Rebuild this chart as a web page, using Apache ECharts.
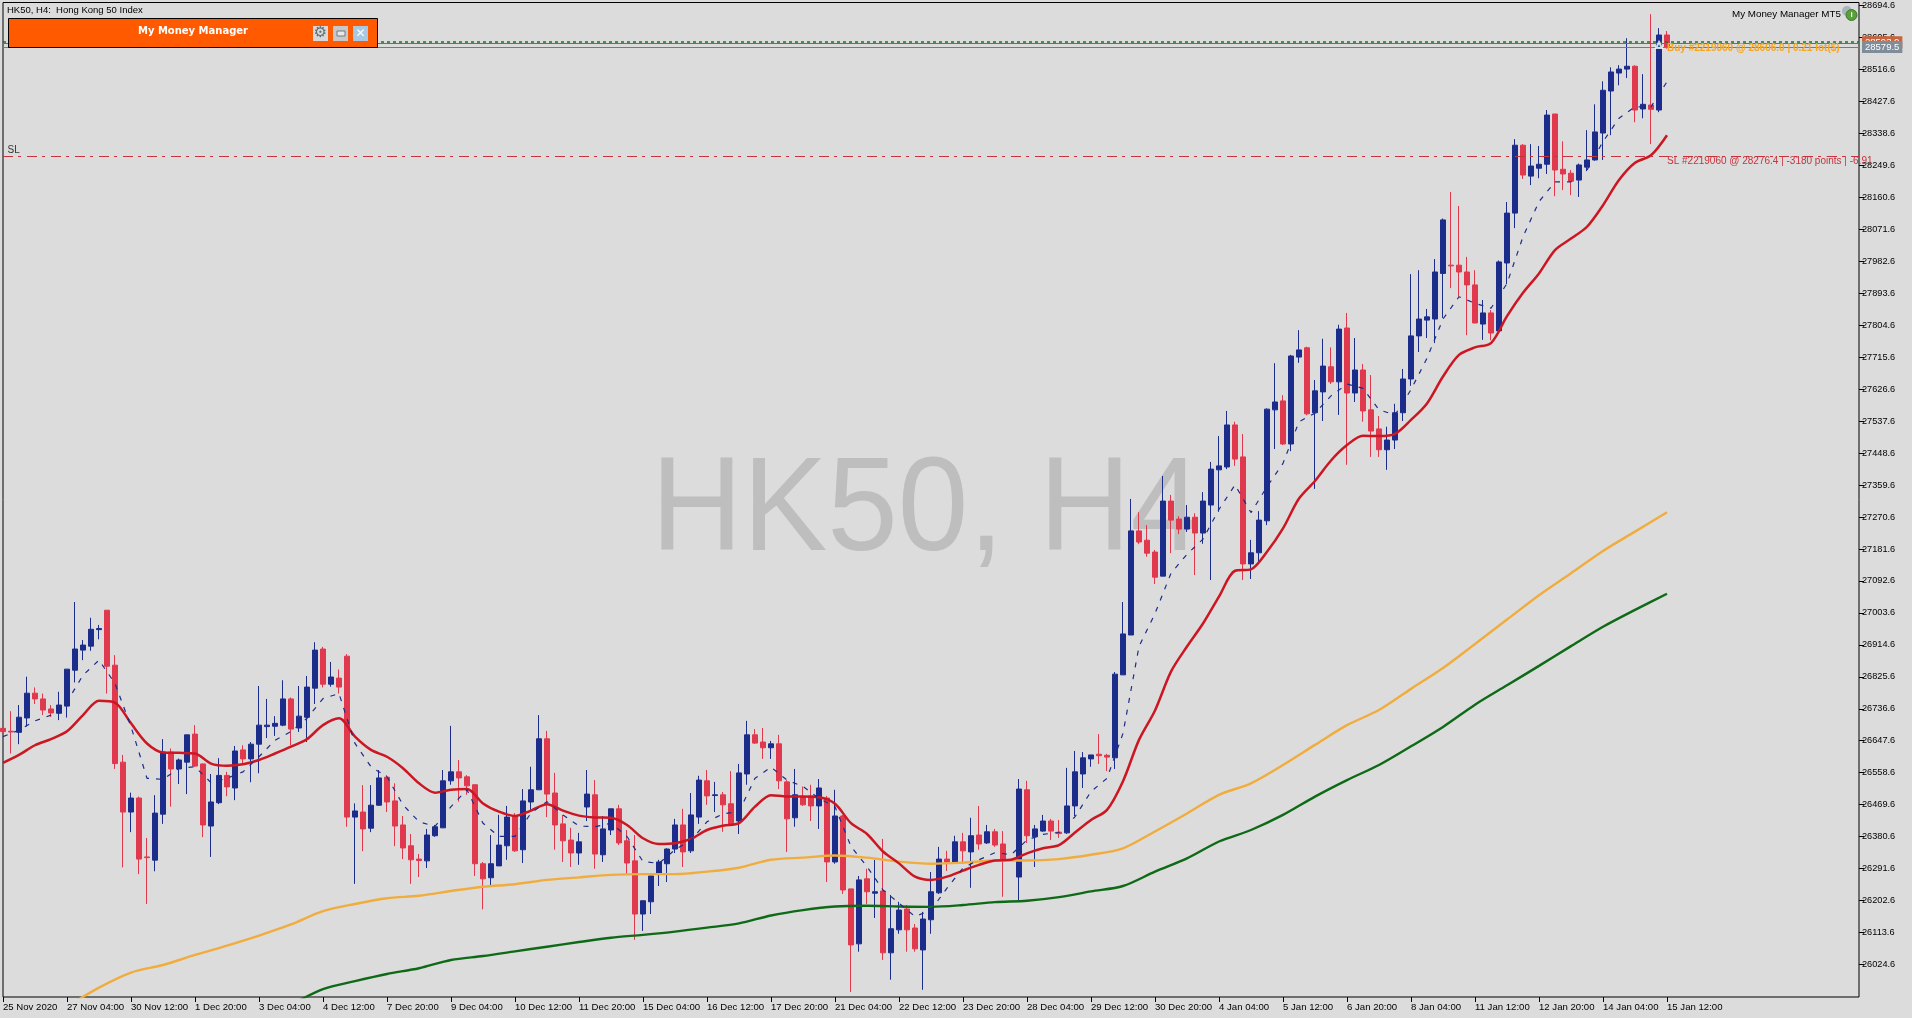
<!DOCTYPE html>
<html>
<head>
<meta charset="utf-8">
<title>HK50, H4</title>
<script src="https://cdn.jsdelivr.net/npm/echarts@6/dist/echarts.min.js"></script>
<style>
  html, body { margin: 0; padding: 0; background: #dcdcdc; }
  #main { width: 1912px; height: 1018px; }
</style>
</head>
<body>
<div id="main"></div>
<script>
// 时间轴标签，每8根K线一个
const tickLabels = ['25 Nov 2020','27 Nov 04:00','30 Nov 12:00','1 Dec 20:00','3 Dec 04:00','4 Dec 12:00','7 Dec 20:00',
  '9 Dec 04:00','10 Dec 12:00','11 Dec 20:00','15 Dec 04:00','16 Dec 12:00','17 Dec 20:00','21 Dec 04:00','22 Dec 12:00',
  '23 Dec 20:00','28 Dec 04:00','29 Dec 12:00','30 Dec 20:00','4 Jan 04:00','5 Jan 12:00','6 Jan 20:00','8 Jan 04:00',
  '11 Jan 12:00','12 Jan 20:00','14 Jan 04:00','15 Jan 12:00'];

const priceTicks = [26024.6,26113.6,26202.6,26291.6,26380.6,26469.6,26558.6,26647.6,26736.6,26825.6,26914.6,27003.6,
  27092.6,27181.6,27270.6,27359.6,27448.6,27537.6,27626.6,27715.6,27804.6,27893.6,27982.6,28071.6,28160.6,28249.6,
  28338.6,28427.6,28516.6,28605.6,28694.6];

// K线 开 收 低 高
const opens = [
  26682,26674,26671,26711,26780,26764,26736,26724,26744,26844,
  26900,26911,26957,27011,26858,26588,26449,26488,26324,26315,
  26443,26616,26569,26588,26666,26583,26410,26475,26551,26516,
  26622,26597,26638,26687,26688,26691,26764,26683,26713,26794,
  26903,26805,26822,26883,26435,26449,26404,26468,26546,26480,
  26413,26355,26318,26313,26383,26405,26536,26561,26547,26525,
  26305,26266,26299,26355,26438,26344,26477,26511,26653,26502,
  26416,26371,26335,26463,26497,26330,26399,26458,26369,26313,
  26165,26199,26277,26305,26346,26413,26341,26435,26536,26495,
  26497,26472,26424,26555,26664,26644,26628,26639,26533,26433,
  26492,26494,26466,26488,26310,26438,26235,26082,26263,26223,
  26229,26057,26121,26179,26126,26065,26149,26224,26318,26310,
  26366,26338,26385,26363,26394,26360,null,26268,26511,26380,
  26396,26424,26393,26391,26466,26555,26597,26610,26607,26600,
  26831,26942,27232,27206,27173,27106,27315,27265,27237,27270,
  27226,27304,27402,27410,27527,27438,27140,27171,27260,27569,
  27594,27474,27716,27742,27561,27619,27689,27647,27797,27616,
  27680,27569,27516,27458,27485,27561,27655,27775,27819,27822,
  27949,27972,27972,27953,27917,27808,27839,27789,27978,28117,
  28306,28220,28242,28253,28393,28239,28228,28209,28245,28265,
  28340,28457,28507,28518,28526,28407,28418,28404,28613];
const closes = [
  26673,26672,26713,26780,26764,26733,26725,26747,26847,26903,
  26914,26958,26960,26855,26584,26449,26488,26318,26322,26446,
  26616,26569,26594,26664,26577,26413,26477,26551,26519,26619,
  26597,26638,26691,26691,26696,26764,26680,26716,26797,26900,
  26805,26825,26797,26435,26452,26402,26468,26544,26477,26410,
  26349,26316,26314,26385,26408,26536,26561,26544,26522,26305,
  26263,26305,26357,26435,26341,26480,26511,26653,26499,26413,
  26369,26335,26366,26499,26332,26402,26458,26363,26307,26165,
  26202,26271,26310,26346,26413,26338,26441,26538,26494,26497,
  26469,26413,26558,26664,26641,26628,26639,26536,26430,26497,
  26469,26466,26516,26310,26438,26232,26079,26260,26227,26227,
  26057,26124,26176,26121,26068,26151,26227,26318,26310,26366,
  26341,26383,26360,26394,26357,26316,null,26513,26383,26402,
  26424,26396,26389,26466,26561,26600,26608,26606,26602,26833,
  26945,27232,27201,27170,27103,27315,27262,27237,27270,27226,
  27315,27404,27413,27527,27432,27140,27171,27262,27571,27591,
  27474,27719,27736,27558,27622,27691,27647,27794,27616,27680,
  27566,27510,27458,27485,27561,27655,27775,27822,27828,27953,
  28098,27970,27953,27917,27811,27839,27783,27981,28117,28306,
  28223,28248,28253,28390,28237,28226,28206,28251,28265,28343,
  28459,28510,28518,28526,28404,28420,28406,28613,28579.5];
const lows = [
  26670,26612,26638,26687,26750,26719,26714,26705,26712,26810,
  26872,26898,26930,26779,26569,26295,26393,26276,26193,26284,
  26416,26464,26527,26499,26575,26379,26324,26471,26493,26482,
  26580,26532,26557,26655,26661,26688,26635,26672,26644,26750,
  26796,26798,26779,26408,26249,26340,26393,26466,26449,26354,
  26318,26249,26268,26293,26380,26405,26525,26478,26497,26271,
  26178,26243,26299,26316,26338,26307,26455,26511,26435,26344,
  26310,26296,26302,26424,26291,26310,26385,26357,26277,26093,
  26118,26165,26243,26254,26335,26296,26335,26416,26469,26449,
  26394,26410,26388,26525,26639,26597,26597,26513,26338,26408,
  26466,26424,26402,26254,26305,26221,25948,26060,26193,26154,
  26037,25982,26110,26060,26060,25954,26110,26221,26285,26307,
  26305,26238,26344,26360,26352,26213,null,26199,26363,26296,
  26394,26371,26377,26388,26438,26516,26575,26583,26563,26569,
  26831,26942,27195,27160,27084,27106,27170,27223,27229,27109,
  27196,27095,27285,27404,27413,27095,27098,27140,27248,27460,
  27471,27454,27700,27554,27349,27538,27641,27555,27416,27591,
  27536,27438,27438,27402,27460,27538,27636,27730,27769,27755,
  27825,27908,27884,27777,27810,27764,27763,27782,27919,28075,
  28212,28195,28214,28226,28164,28181,28167,28162,28234,28263,
  28265,28334,28473,28493,28370,28381,28309,28398,28575];
const highs = [
  26686,26730,26747,26826,26796,26779,26747,26784,26847,27034,
  26928,26990,26970,27011,26886,26608,26503,26492,26377,26496,
  26652,26626,26598,26664,26691,26584,26555,26599,26561,26633,
  26635,26644,26800,26764,26716,26816,26768,26800,26828,26922,
  26909,26867,26846,26889,26473,26524,26524,26566,26552,26529,
  26438,26388,26332,26402,26413,26566,26689,26594,26552,26525,
  26310,26385,26441,26466,26446,26513,26575,26719,26675,26558,
  26441,26405,26391,26566,26538,26438,26458,26469,26399,26385,
  26202,26271,26316,26348,26430,26458,26502,26550,26566,26533,
  26505,26563,26583,26703,26680,26683,26647,26664,26538,26569,
  26520,26525,26541,26494,26511,26441,26235,26271,26291,26316,
  26374,26218,26199,26190,26137,26171,26282,26352,26341,26383,
  26391,26433,26466,26413,26402,26396,null,26541,26536,26413,
  26441,26430,26427,26572,26619,26616,26608,26666,26611,26839,
  27034,27321,27284,27248,27179,27385,27332,27273,27304,27281,
  27340,27424,27496,27566,27536,27502,27207,27287,27573,27699,
  27610,27722,27791,27745,27652,27767,27743,27806,27839,27769,
  27697,27666,27552,27522,27586,27683,27947,27958,27850,27989,
  28102,28176,28137,27995,27958,27875,27847,27985,28148,28323,
  28309,28309,28304,28404,28393,28317,28237,28255,28348,28420,
  28484,28523,28529,28604,28529,28504,28671,28632,28624];

// 均线，红色和蓝色每2根取一个点，橙色绿色每4根取一个点
const redMa = [
  26586,26608,26635,26652,26674,26719,26759,26754,26696,26640,
  26615,26614,26612,26584,26578,26582,26594,26612,26631,26652,
  26691,26710,26659,26622,26603,
  26571,26529,26503,26511,26513,26473,26450,26438,26453,26471,
  26453,26439,26434,26433,26413,26376,26360,26362,26374,26399,
  26411,26418,26464,26496,26492,
  26492,26490,26472,26418,26388,26339,26306,26269,26260,26269,
  26286,26302,26314,26316,26334,26348,26357,26392,26427,26455,
  26535,26650,26732,26840,26910,26974,27049,27121,27125,27174,
  27239,27322,27371,27428,27471,27497,27496,27502,27541,27587,
  27662,27722,27743,27755,27830,27895,27949,28014,28046,28079,
  28139,28209,28257,28278,28334];
const blueMa = [
  26659,26677,26703,26719,26756,26830,26872,26807,26687,26543,
  26540,26571,26575,26531,26543,26561,26603,26649,26673,26710,
  26765,26779,26640,26575,26547,
  26469,26422,26409,26464,26511,26418,26381,26381,26446,26478,
  26441,26410,26408,26418,26381,26311,26306,26344,26371,26422,
  26444,26450,26543,26574,26538,
  26520,26487,26464,26353,26297,26232,26195,26158,26176,26237,
  26293,26316,26336,26330,26371,26387,26392,26436,26506,26543,
  26668,26910,27002,27114,27167,27209,27292,27360,27283,27355,
  27420,27536,27560,27608,27641,27629,27569,27555,27625,27713,
  27822,27884,27866,27852,27921,28051,28149,28204,28204,28237,
  28316,28381,28413,28413,28483];
// 从第8根开始
const orangeMa = [25907,25960,26002,26023,26051,26077,26105,26136,26173,26193,26209,26216,26229,26241,26248,26260,26267,
  26274,26276,26276,26283,26294,26316,26322,26328,26322,26311,26305,26308,26314,26314,26318,26330,26348,26395,26445,
  26497,26529,26580,26636,26691,26733,26792,26850,26917,26985,27053,27114,27176,27230,27284];
// 从第36根开始
const greenMa = [25912,25956,25978,25998,26014,26037,26048,26061,26074,26087,26099,26107,26116,26127,26139,26161,26176,
  26186,26188,26186,26185,26190,26198,26202,26212,26228,26243,26283,26320,26367,26399,26441,26492,26538,26580,26632,
  26686,26748,26802,26856,26911,26965,27012,27057];

// 水平线价格
const slPrice = 28276.4;
const tpPrice = 28593;
const openPrice = 28589;
const bidPrice = 28579.5;

const BLUE = '#1c2c8a';
const RED = '#e0384c';
const BAR_COUNT = 233; // 右边留空

var categories = [];
for (let i = 0; i < BAR_COUNT; i++) {
  categories.push(i % 8 === 0 && i / 8 < tickLabels.length ? tickLabels[i / 8] : 'b' + i);
}
var candleData = opens.map(function (o, i) {
  return o === null ? ['-', '-', '-', '-'] : [o, closes[i], lows[i], highs[i]];
});

// 把抽样的均线铺回K线下标，中间留空
function spread(values, step, start) {
  var out = new Array(BAR_COUNT).fill(null);
  values.forEach(function (v, k) { out[start + k * step] = v; });
  return out;
}

function isLabelBar(index) {
  return index % 8 === 0 && index <= 208;
}

function maLine(name, data, color, width, dash, smooth) {
  return {
    name: name,
    type: 'line',
    data: data,
    connectNulls: true,
    showSymbol: false,
    symbol: 'none',
    smooth: smooth || false,
    z: 4,
    lineStyle: { color: color, width: width, type: dash || 'solid' }
  };
}

function hLine(price, color, width, dash, label) {
  var item = { yAxis: price, lineStyle: { color: color, width: width, type: dash } };
  if (label) {
    item.label = { show: true, position: 'end', distance: 3, formatter: label.text, color: '#fff',
      backgroundColor: label.bg, padding: [1, 3, 1, 3], fontSize: 9.5, fontFamily: 'Liberation Sans' };
  } else {
    item.label = { show: false };
  }
  return item;
}

var myChart = echarts.init(document.getElementById('main'));

var option = {
  animation: false,
  backgroundColor: '#dcdcdc',
  textStyle: { fontFamily: 'Liberation Sans' },
  grid: {
    left: 2.5, right: 53, top: 2.5, bottom: 21,
    show: true, borderColor: '#000', borderWidth: 1, backgroundColor: 'transparent'
  },
  xAxis: {
    type: 'category',
    data: categories,
    boundaryGap: false,
    axisLine: { show: false },
    axisTick: { show: true, length: 5, interval: isLabelBar, lineStyle: { color: '#000' } },
    axisLabel: {
      interval: isLabelBar, align: 'left', margin: 5, color: '#000', fontSize: 9.6,
      fontFamily: 'Liberation Sans', showMinLabel: true, hideOverlap: false
    },
    splitLine: { show: false }
  },
  yAxis: {
    type: 'value',
    position: 'right',
    scale: true,
    min: 25933.9,
    max: 28703.5,
    axisLine: { show: false },
    axisTick: { show: true, length: 5, customValues: priceTicks, lineStyle: { color: '#000' } },
    axisLabel: {
      customValues: priceTicks, margin: 3, color: '#000', fontSize: 9.2, fontFamily: 'Liberation Sans',
      align: 'left', showMinLabel: true, showMaxLabel: true,
      formatter: function (v) { return v.toFixed(1); }
    },
    splitLine: { show: false }
  },
  series: [
    {
      name: 'HK50',
      type: 'candlestick',
      data: candleData,
      barWidth: 5,
      z: 3,
      itemStyle: { color: BLUE, color0: RED, borderColor: BLUE, borderColor0: RED, borderWidth: 1 }
    },
    maLine('ma-green', spread(greenMa, 4, 36), '#0e6a16', 2.4, null, 0.3),
    maLine('ma-orange', spread(orangeMa, 4, 8), '#f0ad3e', 2.4, null, 0.3),
    maLine('ma-red', spread(redMa, 2, 0), '#cc1622', 2.5, null, 0.3),
    maLine('ma-blue', spread(blueMa, 2, 0), '#1c2c8a', 1.2, [5, 7]),
    {
      name: 'levels',
      type: 'line',
      data: [],
      z: 5,
      markLine: {
        silent: true,
        symbol: 'none',
        animation: false,
        data: [
          hLine(slPrice, '#c8323c', 1, [10, 5, 3, 6]),
          hLine(tpPrice, '#17761c', 1.5, [3, 3], { text: '28593.0', bg: '#c8643c' }),
          hLine(openPrice, '#b4552f', 1, 'solid'),
          hLine(bidPrice, '#a86a48', 1, 'solid', { text: String(bidPrice), bg: '#7f8c99' })
        ]
      }
    },
    {
      name: 'entry',
      type: 'scatter',
      z: 6,
      symbol: 'triangle',
      symbolSize: 6,
      itemStyle: { color: '#1a6f96', borderColor: '#fff', borderWidth: 2 },
      data: [[207, 28585]]
    }
  ],
  graphic: [
    // 水印
    { type: 'text', z: 1, silent: true, x: 651, y: 446, scaleX: 0.947,
      style: { text: 'HK50, H4', fill: '#bebebe', font: '134px "Liberation Sans"' } },
    { type: 'text', z: 50, x: 7, y: 5,
      style: { text: 'HK50, H4:  Hong Kong 50 Index', fill: '#000', font: '9.5px "Liberation Sans"' } },
    { type: 'text', z: 50, x: 7.5, y: 145,
      style: { text: 'SL', fill: '#333', font: '10px "Liberation Sans"' } },
    { type: 'text', z: 50, x: 1732, y: 9,
      style: { text: 'My Money Manager MT5', fill: '#000', font: '9.8px "Liberation Sans"' } },
    { type: 'circle', z: 50, shape: { cx: 1847, cy: 11, r: 5 }, style: { fill: '#aab4bc' } },
    { type: 'circle', z: 51, shape: { cx: 1851.5, cy: 15, r: 5.5 }, style: { fill: '#5aa03a', stroke: '#3c7c28', lineWidth: 1 } },
    { type: 'text', z: 52, x: 1850.5, y: 11,
      style: { text: 'i', fill: '#fff', font: 'bold 8px "Liberation Sans"' } },
    { type: 'text', z: 50, x: 1667, y: 43,
      style: { text: 'Buy #2219060 @ 28606.0 | 0.21 lot($)', fill: '#f5a623', font: 'bold 10px "Liberation Sans"' } },
    { type: 'text', z: 50, x: 1667, y: 156,
      style: { text: 'SL #2219060 @ 28276.4 | -3180 points | -6.91', fill: '#c8323c', font: '10px "Liberation Sans"' } },
    // 面板
    { type: 'rect', z: 60, shape: { x: 8.5, y: 18.5, width: 369, height: 29 },
      style: { fill: '#ff5a00', stroke: '#000', lineWidth: 1 } },
    { type: 'text', z: 61, x: 193, y: 31,
      style: { text: 'My Money Manager', fill: '#fff', font: 'bold 10px "DejaVu Sans"', align: 'center', verticalAlign: 'middle' } },
    { type: 'rect', z: 61, shape: { x: 313, y: 26, width: 15, height: 15 }, style: { fill: '#d8d8d8' } },
    { type: 'text', z: 62, x: 320.5, y: 33.5,
      style: { text: '\u2699', fill: '#5e6e78', font: '15px "DejaVu Sans"', align: 'center', verticalAlign: 'middle' } },
    { type: 'rect', z: 61, shape: { x: 333, y: 26, width: 15, height: 15 }, style: { fill: '#c8c8c8' } },
    { type: 'rect', z: 62, shape: { x: 337, y: 31, width: 8, height: 5 }, style: { fill: '#e8e8e8', stroke: '#6c7a86', lineWidth: 1 } },
    { type: 'rect', z: 61, shape: { x: 353, y: 26, width: 15, height: 15 }, style: { fill: '#a8c8e4' } },
    { type: 'text', z: 62, x: 360.5, y: 33.5,
      style: { text: '\u2715', fill: '#fff', font: 'bold 12px "DejaVu Sans"', align: 'center', verticalAlign: 'middle' } }
  ]
};

myChart.setOption(option);
</script>
</body>
</html>
